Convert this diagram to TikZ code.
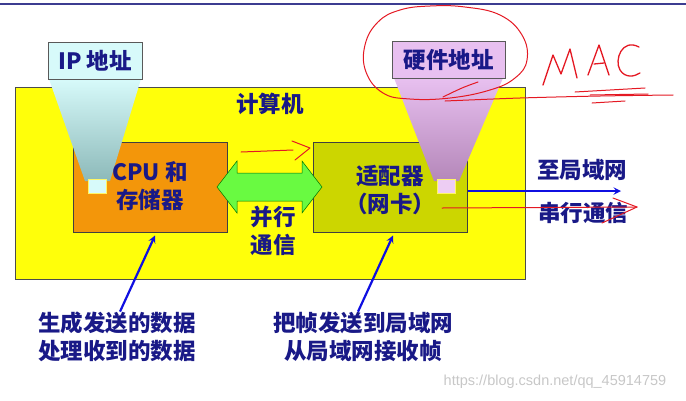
\documentclass[tikz,border=0pt]{standalone}
\usepackage{fontspec}
\newfontfamily\cjk{Noto Sans CJK SC}
\newfontfamily\wmfont{Liberation Sans}
\usetikzlibrary{arrows}
\definecolor{navy}{RGB}{25,25,135}
\definecolor{rulenavy}{RGB}{60,60,145}
\definecolor{pcyellow}{RGB}{255,255,10}
\definecolor{cpuorange}{RGB}{243,150,10}
\definecolor{nicgreen}{RGB}{204,214,0}
\definecolor{busgreen}{RGB}{105,250,65}
\definecolor{arrowblue}{RGB}{15,15,225}
\definecolor{pencolor}{RGB}{228,25,35}
\definecolor{ipcyan}{RGB}{215,250,250}
\definecolor{hwpink}{RGB}{232,192,240}
\tikzstyle{pcbox} = [rectangle, minimum width=510, minimum height=192, draw=black!70, line width=0.8, fill=pcyellow]
\tikzstyle{cpubox} = [rectangle, minimum width=154, minimum height=90, draw=black!75, line width=1, fill=cpuorange]
\tikzstyle{nicbox} = [cpubox, fill=nicgreen]
\tikzstyle{addrbox} = [rectangle, minimum height=37, draw=black!65, line width=0.8, inner sep=0]
\tikzstyle{cntext} = [text=navy, font=\cjk\bfseries\fontsize{22.5}{28.5}\selectfont, align=center, inner sep=0]
\tikzstyle{bus} = [fill=busgreen, draw=green!45!black, line width=0.5]
\tikzstyle{bluearrow} = [line width=2.2, ->, >=stealth, draw=arrowblue]
\tikzstyle{pen} = [draw=pencolor, line width=1, line cap=round, line join=round]

\begin{document}
\begin{tikzpicture}[x=1pt, y=-1pt]
    \useasboundingbox (0,0) rectangle (686,400);
    \draw [line width=2.5, draw=rulenavy] (0,4) -- (686,4);

    %nodes
    \node (pc) [pcbox] at (270,183) {};
    \node (pctext) [cntext] at (270,104) {计算机};
    \node (cpu) [cpubox] at (150,187) {};
    \node (nic) [nicbox] at (390,187) {};
    % parallel bus
    \draw [bus] (217,187) -- (237,161) -- (237,173) -- (302,173) -- (302,161) -- (322,187)
        -- (302,213) -- (302,201) -- (237,201) -- (237,213) -- cycle;

    %beams
    \shade [top color=ipcyan, bottom color={rgb,255:red,140;green,185;blue,185}]
        (49,79) -- (141,79) -- (110,181) -- (85,181) -- cycle;
    \filldraw [fill=ipcyan, draw=yellow!60] (88,179) rectangle (106,193);
    \shade [top color=hwpink, bottom color={rgb,255:red,180;green,135;blue,185}]
        (394,78) -- (503,78) -- (459,181) -- (434,181) -- cycle;
    \filldraw [fill=hwpink!80!white, draw=yellow!60] (437,179) rectangle (455,193);

    \node (ip) [addrbox, minimum width=94, fill=ipcyan] at (95,60.5) {};
    \node (iptext) [cntext] at (ip) {IP 地址};
    \node (hw) [addrbox, minimum width=113, fill=hwpink] at (448.5,59.5) {};
    \node (hwtext) [cntext] at (hw) {硬件地址};

    \node (cputext) [cntext] at (150,186) {CPU 和\\存储器};
    \node (nictext) [cntext] at (390,190) {适配器\\（网卡）};
    \node (bustext) [cntext] at (273,231) {并行\\通信};
    \node (lantext) [cntext] at (582,170) {至局域网};
    \node (serialtext) [cntext] at (583,213) {串行通信};
    \node (gen) [cntext] at (117,337) {生成发送的数据\\处理收到的数据};
    \node (frame) [cntext] at (363,337) {把帧发送到局域网\\从局域网接收帧};
    \node (mark) [text=black!22, font=\wmfont\fontsize{14.5}{15}\selectfont, inner sep=0] at (555,382) {https://blog.csdn.net/qq\_45914759};

    %arrows
    \coordinate (lan) at (621,191);
    \draw [bluearrow] (nic.east |- lan) -- (lan);
    \draw [bluearrow] ([xshift=3]gen.north) -- ([xshift=5,yshift=-3]cpu.south);
    \draw [bluearrow] ([xshift=-5]frame.north) -- ([xshift=3,yshift=-3]nic.south);

    %pen marks
    \draw [pen] (241,152) -- (293,150);
    \draw [pen] (292,141) -- (310,148) -- (295,160);
    \draw [pen] (442,208) -- (637,207);
    \draw [pen] (613,198) -- (637,207) -- (602,223);
    \draw [pen] plot [smooth cycle, tension=0.7] coordinates {(430,6) (465,7) (500,15) (522,35) (527,60) (515,78) (490,90) (450,98) (410,99) (383,93) (366,72) (365,45) (378,22) (400,10)};
    \draw [pen] plot [smooth, tension=0.6] coordinates {(443,97) (462,88) (478,82)};
    \draw [pen] plot [smooth, tension=0.5] coordinates {(445,101) (520,98) (600,96) (673,95)};
    \draw [pen] (575,92) -- (645,88);
    \draw [pen] (590,95) -- (648,94);
    \draw [pen] (592,103) -- (625,101);
    % MAC
    \draw [pen, line width=1.3] (543,85) -- (553,55) -- (561,74) -- (570,49) -- (577,78);
    \draw [pen, line width=1.3] (588,75) -- (599,45) -- (609,75);
    \draw [pen, line width=1.3] (594,64) -- (604,63);
    \draw [pen, line width=1.3] (639,47) .. controls (622,38) and (614,60) .. (620,70) .. controls (625,78) and (634,77) .. (640,73);
\end{tikzpicture}
\end{document}
